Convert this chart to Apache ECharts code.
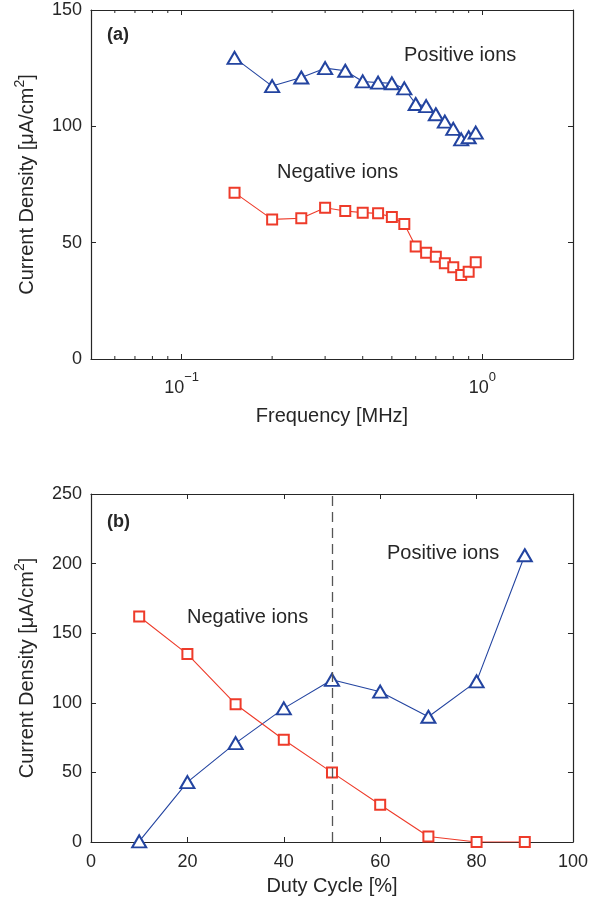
<!DOCTYPE html>
<html>
<head>
<meta charset="utf-8">
<script src="https://cdn.jsdelivr.net/npm/echarts@6/dist/echarts.min.js"></script>
<style>
html,body{margin:0;padding:0;background:#fff;}
#main{width:591px;height:904px;}
</style>
</head>
<body>
<div id="main"></div>
<script>
// ---- Panel (a): current density vs frequency ----
var freqA = [0.15, 0.2, 0.25, 0.3, 0.35, 0.4, 0.45, 0.5, 0.55, 0.6, 0.65, 0.7, 0.75, 0.8, 0.85, 0.9, 0.95];
var posA = [129.4, 117.3, 121, 125, 123.9, 119.3, 118.8, 118.5, 116.3, 109.6, 108.7, 105.2, 102, 98.9, 94.4, 95.3, 97.3];
var negA = [71.5, 60, 60.5, 65, 63.6, 62.9, 62.6, 61, 58, 48.3, 45.7, 44, 41.1, 39.4, 36.1, 37.5, 41.6];
var minorTicksA = [0.06, 0.07, 0.08, 0.09, 0.2, 0.3, 0.4, 0.5, 0.6, 0.7, 0.8, 0.9];

// ---- Panel (b): current density vs duty cycle ----
var dutyB = [10, 20, 30, 40, 50, 60, 70, 80, 90];
var posB = [0.5, 43, 71, 96, 116.5, 108, 90, 115.4, 206];
var negB = [162, 135, 99, 73.5, 50, 26.8, 4, 0, 0];
var dashedAtB = 50;

var TXT = '#262626';
var BLUE = '#2344a0';
var RED = '#ee3b2a';
var FONT = 'Liberation Sans, Arial, Helvetica, sans-serif';

function zip(xs, ys) { return xs.map(function (x, i) { return [x, ys[i]]; }); }

function supLabel(v) {
  var l = Math.log(v) / Math.LN10;
  var e = Math.round(l);
  if (Math.abs(l - e) > 1e-6) return '';
  return '{b|10}{s|' + (e < 0 ? '\u2212' + (-e) : e) + '}';
}

var tickStyle = { color: TXT, fontSize: 18, fontFamily: FONT };
var nameStyle = {
  color: TXT, fontSize: 20, fontFamily: FONT,
  rich: {
    t: { fontSize: 20, fontFamily: FONT, color: TXT, verticalAlign: 'bottom', lineHeight: 22 },
    s: { fontSize: 14, fontFamily: FONT, color: TXT, verticalAlign: 'top', lineHeight: 24 }
  }
};
var axisLine = { show: true, onZero: false, lineStyle: { color: TXT, width: 1.2 } };
var tickIn = { show: true, inside: true, length: 5, lineStyle: { color: TXT, width: 1 } };

var yName = '{t|Current Density [\u03bcA/cm}{s|2}{t|]}';

var option = {
  animation: false,
  backgroundColor: '#fff',
  grid: [
    { left: 91, right: 18, top: 10, height: 349, containLabel: false },
    { left: 91, right: 18, top: 494, height: 348, containLabel: false }
  ],
  xAxis: [
    {
      gridIndex: 0, type: 'log', logBase: 10, min: 0.05, max: 2, position: 'bottom',
      axisLine: axisLine, axisTick: tickIn, splitLine: { show: false },
      axisLabel: {
        margin: 12, formatter: supLabel, showMinLabel: false, showMaxLabel: false,
        rich: {
          b: { fontSize: 18, fontFamily: FONT, color: TXT, verticalAlign: 'bottom', lineHeight: 20 },
          s: { fontSize: 13, fontFamily: FONT, color: TXT, verticalAlign: 'top', lineHeight: 26 }
        }
      },
      name: 'Frequency [MHz]', nameLocation: 'middle', nameGap: 47, nameTextStyle: nameStyle
    },
    {
      gridIndex: 0, type: 'log', logBase: 10, min: 0.05, max: 2, position: 'top',
      axisLine: axisLine, axisTick: tickIn, axisLabel: { show: false }, splitLine: { show: false }
    },
    {
      gridIndex: 1, type: 'value', min: 0, max: 100, interval: 20, position: 'bottom',
      axisLine: axisLine, axisTick: tickIn, splitLine: { show: false },
      axisLabel: Object.assign({ margin: 11 }, tickStyle),
      name: 'Duty Cycle [%]', nameLocation: 'middle', nameGap: 34, nameTextStyle: nameStyle
    },
    {
      gridIndex: 1, type: 'value', min: 0, max: 100, interval: 20, position: 'top',
      axisLine: axisLine, axisTick: tickIn, axisLabel: { show: false }, splitLine: { show: false }
    }
  ],
  yAxis: [
    {
      gridIndex: 0, type: 'value', min: 0, max: 150, interval: 50, position: 'left',
      axisLine: axisLine, axisTick: tickIn, splitLine: { show: false },
      axisLabel: Object.assign({ margin: 9 }, tickStyle),
      name: yName, nameLocation: 'middle', nameGap: 54, nameRotate: 90, nameTextStyle: nameStyle
    },
    {
      gridIndex: 0, type: 'value', min: 0, max: 150, interval: 50, position: 'right',
      axisLine: axisLine, axisTick: tickIn, axisLabel: { show: false }, splitLine: { show: false }
    },
    {
      gridIndex: 1, type: 'value', min: 0, max: 250, interval: 50, position: 'left',
      axisLine: axisLine, axisTick: tickIn, splitLine: { show: false },
      axisLabel: Object.assign({ margin: 9 }, tickStyle),
      name: yName, nameLocation: 'middle', nameGap: 54, nameRotate: 90, nameTextStyle: nameStyle
    },
    {
      gridIndex: 1, type: 'value', min: 0, max: 250, interval: 50, position: 'right',
      axisLine: axisLine, axisTick: tickIn, axisLabel: { show: false }, splitLine: { show: false }
    }
  ],
  series: [
    {
      type: 'custom', xAxisIndex: 0, yAxisIndex: 0, silent: true,
      data: minorTicksA.map(function (v) { return [v, 0]; }),
      renderItem: function (params, api) {
        var b = api.coord([api.value(0), 0]);
        var t = api.coord([api.value(0), 150]);
        var st = { stroke: TXT, lineWidth: 1 };
        return {
          type: 'group', children: [
            { type: 'line', shape: { x1: b[0], y1: b[1], x2: b[0], y2: b[1] - 3 }, style: st },
            { type: 'line', shape: { x1: t[0], y1: t[1], x2: t[0], y2: t[1] + 3 }, style: st }
          ]
        };
      },
      z: 1
    },
    {
      name: 'Positive ions (a)', type: 'line', xAxisIndex: 0, yAxisIndex: 0,
      data: zip(freqA, posA), symbol: 'emptyTriangle', symbolSize: [14, 12],
      lineStyle: { color: BLUE, width: 1.1 }, itemStyle: { color: BLUE, borderWidth: 1.3 }, z: 3
    },
    {
      name: 'Negative ions (a)', type: 'line', xAxisIndex: 0, yAxisIndex: 0,
      data: zip(freqA, negA), symbol: 'emptyRect', symbolSize: 10,
      lineStyle: { color: RED, width: 1.1 }, itemStyle: { color: RED, borderWidth: 1.3 }, z: 3
    },
    {
      name: 'Positive ions (b)', type: 'line', xAxisIndex: 2, yAxisIndex: 2,
      data: zip(dutyB, posB), symbol: 'emptyTriangle', symbolSize: [14, 12],
      lineStyle: { color: BLUE, width: 1.1 }, itemStyle: { color: BLUE, borderWidth: 1.3 }, z: 3,
      markLine: {
        silent: true, symbol: 'none', label: { show: false },
        lineStyle: { color: '#555', width: 1.3, type: [10, 6] },
        data: [{ xAxis: dashedAtB }]
      }
    },
    {
      name: 'Negative ions (b)', type: 'line', xAxisIndex: 2, yAxisIndex: 2,
      data: zip(dutyB, negB), symbol: 'emptyRect', symbolSize: 10,
      lineStyle: { color: RED, width: 1.1 }, itemStyle: { color: RED, borderWidth: 1.3 }, z: 3
    }
  ],
  graphic: [
    { type: 'text', left: 107, top: 26, style: { text: '(a)', font: 'bold 18px ' + FONT, fill: TXT } },
    { type: 'text', left: 404, top: 45, style: { text: 'Positive ions', font: '20px ' + FONT, fill: TXT } },
    { type: 'text', left: 277, top: 162, style: { text: 'Negative ions', font: '20px ' + FONT, fill: TXT } },
    { type: 'text', left: 107, top: 513, style: { text: '(b)', font: 'bold 18px ' + FONT, fill: TXT } },
    { type: 'text', left: 387, top: 543, style: { text: 'Positive ions', font: '20px ' + FONT, fill: TXT } },
    { type: 'text', left: 187, top: 607, style: { text: 'Negative ions', font: '20px ' + FONT, fill: TXT } }
  ]
};

var chart = echarts.init(document.getElementById('main'), null, { renderer: 'canvas' });
chart.setOption(option);
</script>
</body>
</html>
